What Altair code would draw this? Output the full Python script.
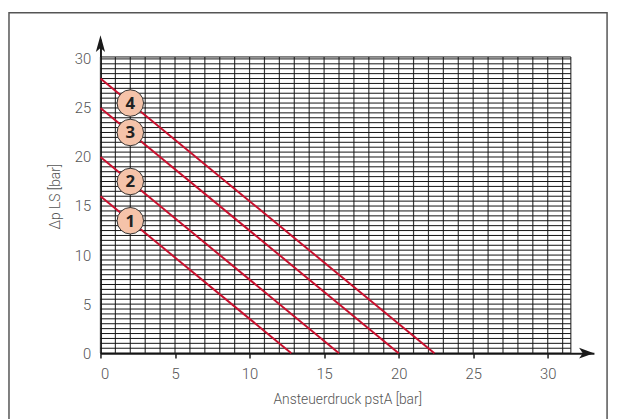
import altair as alt
import pandas as pd

# ---- data ----
x_ticks = [0, 5, 10, 15, 20, 25, 30]
y_ticks = [0, 5, 10, 15, 20, 25, 30]
curve_ids = ["1", "2", "3", "4"]
curve_y_start = [16, 20, 25, 28]        # Δp LS at pstA = 0
curve_x_end = [12.8, 16.0, 20.0, 22.4]  # pstA where Δp LS = 0
label_x = 2.0                            # marker position along pstA

grid_right = 31.55
grid_top = 30.2
grid_x = list(range(0, 32)) + [grid_right]
grid_y = [i * 0.5 for i in range(61)] + [grid_top]

x_max = 33.1
y_max = 32.0

FONT = "Liberation Sans Narrow, Roboto, sans-serif"

# ---- tables ----
lines = pd.DataFrame(
    [{"id": c, "x": 0.0, "y": y0} for c, y0 in zip(curve_ids, curve_y_start)]
    + [{"id": c, "x": xe, "y": 0.0} for c, xe in zip(curve_ids, curve_x_end)]
)
labels = pd.DataFrame({
    "id": curve_ids,
    "x": [label_x] * 4,
    "y": [y0 * (1 - label_x / xe) for y0, xe in zip(curve_y_start, curve_x_end)],
})
vgrid = pd.DataFrame({"x": grid_x, "y": [0.0] * len(grid_x), "y2": [grid_top] * len(grid_x)})
hgrid = pd.DataFrame({"y": grid_y, "x": [0.0] * len(grid_y), "x2": [grid_right] * len(grid_y)})

xs = alt.Scale(domain=[0, x_max], nice=False, zero=False)
ys = alt.Scale(domain=[0, y_max], nice=False, zero=False)

x_axis = alt.Axis(
    values=x_ticks, title="Ansteuerdruck pstA [bar]", grid=False,
    domainColor="#1a1a1a", domainWidth=2, tickColor="#1a1a1a", tickWidth=1.5, tickSize=5,
    labelFont=FONT, labelFontSize=15, labelFontWeight=300, labelColor="#555", labelPadding=9,
    titleFont=FONT, titleFontSize=14, titleColor="#555", titleFontWeight=300, titlePadding=11,
)
y_axis = alt.Axis(
    values=y_ticks, title="Δp LS [bar]", grid=False, ticks=False,
    domainColor="#1a1a1a", domainWidth=2,
    labelFont=FONT, labelFontSize=15, labelFontWeight=300, labelColor="#555", labelPadding=10,
    titleFont=FONT, titleFontSize=14, titleColor="#555", titleFontWeight=300, titlePadding=12,
)

X = lambda f: alt.X(f, scale=xs, axis=x_axis, title="Ansteuerdruck pstA [bar]")
Y = lambda f: alt.Y(f, scale=ys, axis=y_axis, title="Δp LS [bar]")

vlines = alt.Chart(vgrid).mark_rule(color="#3a3a3a", strokeWidth=1.2).encode(
    x=X("x:Q"), y=Y("y:Q"), y2="y2:Q",
)
hlines = alt.Chart(hgrid).mark_rule(color="#111", strokeWidth=1).encode(
    x=X("x:Q"), x2="x2:Q", y=Y("y:Q"),
)
curves = alt.Chart(lines).mark_line(color="#c8102e", strokeWidth=2).encode(
    x=X("x:Q"), y=Y("y:Q"), detail="id:N",
)
circles = alt.Chart(labels).mark_point(
    shape="circle", filled=True, size=720, fill="#f5c3a9", stroke="#333", strokeWidth=1, opacity=1
).encode(x=X("x:Q"), y=Y("y:Q"))
nums = alt.Chart(labels).mark_text(
    font="Open Sans", fontSize=17, fontWeight="bold", color="#222", baseline="middle", align="center", dy=1
).encode(x=X("x:Q"), y=Y("y:Q"), text="id:N")

arrow_x = pd.DataFrame({"x": [x_max - 0.5], "y": [0.0]})
arrow_y = pd.DataFrame({"x": [0.0], "y": [y_max - 0.45]})
ax_arrow = alt.Chart(arrow_x).mark_point(
    shape="M1,0L-1,-0.72L-0.5,0L-1,0.72Z", size=225, filled=True, color="#1a1a1a", opacity=1
).encode(x=X("x:Q"), y=Y("y:Q"))
ay_arrow = alt.Chart(arrow_y).mark_point(
    shape="M0,-1L-0.55,1L0,0.5L0.55,1Z", size=289, filled=True, color="#1a1a1a", opacity=1
).encode(x=X("x:Q"), y=Y("y:Q"))

frame = alt.Chart(pd.DataFrame({"a": [0]})).mark_rect(
    fillOpacity=0, stroke="#555", strokeWidth=1.5
).encode(
    x=alt.value(-92.7), x2=alt.value(513.3), y=alt.value(-27), y2=alt.value(420)
)

chart = alt.layer(
    vlines, hlines, curves, circles, nums, ax_arrow, ay_arrow, frame
).properties(
    width=500, height=318,
    autosize=alt.AutoSizeParams(type="none"),
    padding={"left": 93.7, "top": 29, "right": 18.3, "bottom": 64},
    background="white",
).configure_view(stroke=None)

chart.save("out.html", embed_options={"renderer": "svg", "actions": False})
